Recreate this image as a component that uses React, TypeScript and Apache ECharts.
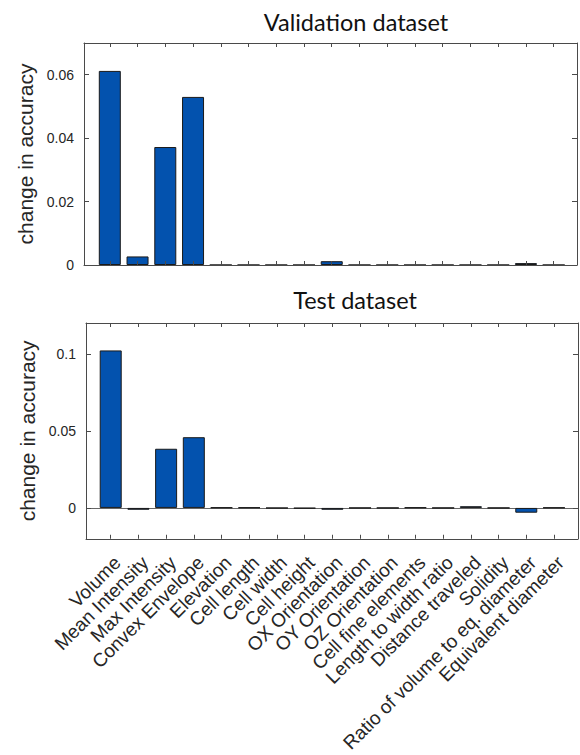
import React, { useEffect, useRef } from "react";
import * as echarts from "echarts";

const categories = [
  "Volume",
  "Mean Intensity",
  "Max Intensity",
  "Convex Envelope",
  "Elevation",
  "Cell length",
  "Cell width",
  "Cell height",
  "OX Orientation",
  "OY Orientation",
  "OZ Orientation",
  "Cell fine elements",
  "Length to width ratio",
  "Distance traveled",
  "Solidity",
  "Ratio of volume to eq. diameter",
  "Equivalent diameter",
];

const validationValues = [
  0.0612, 0.0027, 0.0372, 0.053, 0, 0, 0, 0, 0.0012, 0, 0, 0, 0, 0, 0, 0.0006, 0,
];
const testValues = [
  0.1022, -0.0012, 0.0384, 0.0459, 0.0003, 0.0003, -0.0001, -0.0003, -0.0012, 0, 0,
  0.0003, 0, 0.0011, 0, -0.0031, 0.0002,
];

const validationTicks = [0, 0.02, 0.04, 0.06];
const testTicks = [0, 0.05, 0.1];
const validationRange = [0, 0.07];
const testRange = [-0.02, 0.12];
const titles = ["Validation dataset", "Test dataset"];
const yName = "change in accuracy";

const positions = categories.map((_, i) => i + 1);

const AX_COLOR = "#4a4a4a";
const TXT_COLOR = "#262626";
const FONT = "'Liberation Sans', Arial, sans-serif";

function xAxes(gridIndex: number, min: number, max: number, showLabels: boolean) {
  const base = {
    type: "value" as const,
    gridIndex,
    min,
    max,
    z: 5,
    axisLine: { show: true, onZero: false, lineStyle: { color: AX_COLOR, width: 1 } },
    splitLine: { show: false },
    axisTick: {
      show: true,
      inside: true,
      length: 4,
      customValues: positions,
      lineStyle: { color: AX_COLOR, width: 1 },
    },
  };
  return [
    {
      ...base,
      position: "bottom",
      axisLabel: showLabels
        ? {
            show: true,
            customValues: positions,
            rotate: 45,
            margin: 14,
            align: "right",
            verticalAlign: "top",
            fontSize: 19,
            fontFamily: FONT,
            color: TXT_COLOR,
            formatter: (v: number) => categories[Math.round(v) - 1] ?? "",
          }
        : { show: false },
    },
    { ...base, position: "top", axisLabel: { show: false } },
  ];
}

function yAxes(gridIndex: number, range: number[], ticks: number[]) {
  const base = {
    type: "value" as const,
    gridIndex,
    min: range[0],
    max: range[1],
    z: 5,
    axisLine: { show: true, lineStyle: { color: AX_COLOR, width: 1 } },
    splitLine: { show: false },
    axisTick: {
      show: true,
      inside: true,
      length: 5,
      customValues: ticks,
      lineStyle: { color: AX_COLOR, width: 1 },
    },
  };
  return [
    {
      ...base,
      position: "left",
      name: yName,
      nameLocation: "middle",
      nameRotate: 90,
      nameGap: 48,
      nameTextStyle: { fontSize: 21, fontFamily: FONT, color: TXT_COLOR },
      axisLabel: {
        show: true,
        customValues: ticks,
        margin: 10,
        fontSize: 14,
        fontFamily: FONT,
        color: TXT_COLOR,
        formatter: (v: number) => String(parseFloat(Number(v).toFixed(4))),
      },
    },
    { ...base, position: "right", axisLabel: { show: false } },
  ];
}

function barSeries(values: number[], axisIndex: number, withZeroLine: boolean) {
  return {
    type: "bar",
    xAxisIndex: axisIndex,
    yAxisIndex: axisIndex,
    barWidth: 22,
    silent: true,
    data: positions.map((p, i) => [p, values[i]]),
    itemStyle: { color: "#0352AE", borderColor: "#1a1a1a", borderWidth: 1 },
    markLine: withZeroLine
      ? {
          silent: true,
          symbol: "none",
          label: { show: false },
          lineStyle: { color: "#666", width: 1, type: "solid" },
          data: [{ yAxis: 0 }],
          z: 1,
        }
      : undefined,
  };
}

export default function App() {
  const ref = useRef<HTMLDivElement>(null);
  useEffect(() => {
    if (!ref.current) return;
    const chart = echarts.init(ref.current, null, { renderer: "svg" });
    const titleStyle = {
      fontFamily: "Lato, sans-serif",
      fontSize: 23.5,
      fontWeight: "normal",
      color: "#111",
    };
    chart.setOption({
      animation: false,
      backgroundColor: "#ffffff",
      title: [
        { text: titles[0], left: 351, top: 5, textAlign: "center", textStyle: titleStyle },
        { text: titles[1], left: 350, top: 283, textAlign: "center", textStyle: titleStyle },
      ],
      grid: [
        { left: 84, top: 43, right: 3, height: 222, show: false },
        { left: 86, top: 323, right: 2, height: 222, show: false },
      ],
      xAxis: [...xAxes(0, 0.07, 17.84, false), ...xAxes(1, 0.108, 17.867, true)],
      yAxis: [...yAxes(0, validationRange, validationTicks), ...yAxes(1, testRange, testTicks)],
      series: [barSeries(validationValues, 0, false), barSeries(testValues, 2, true)],
    });
    return () => chart.dispose();
  }, []);
  return (
    <div
      ref={ref}
      style={{ position: "fixed", left: 0, top: 0, width: 580, height: 755 }}
    />
  );
}
